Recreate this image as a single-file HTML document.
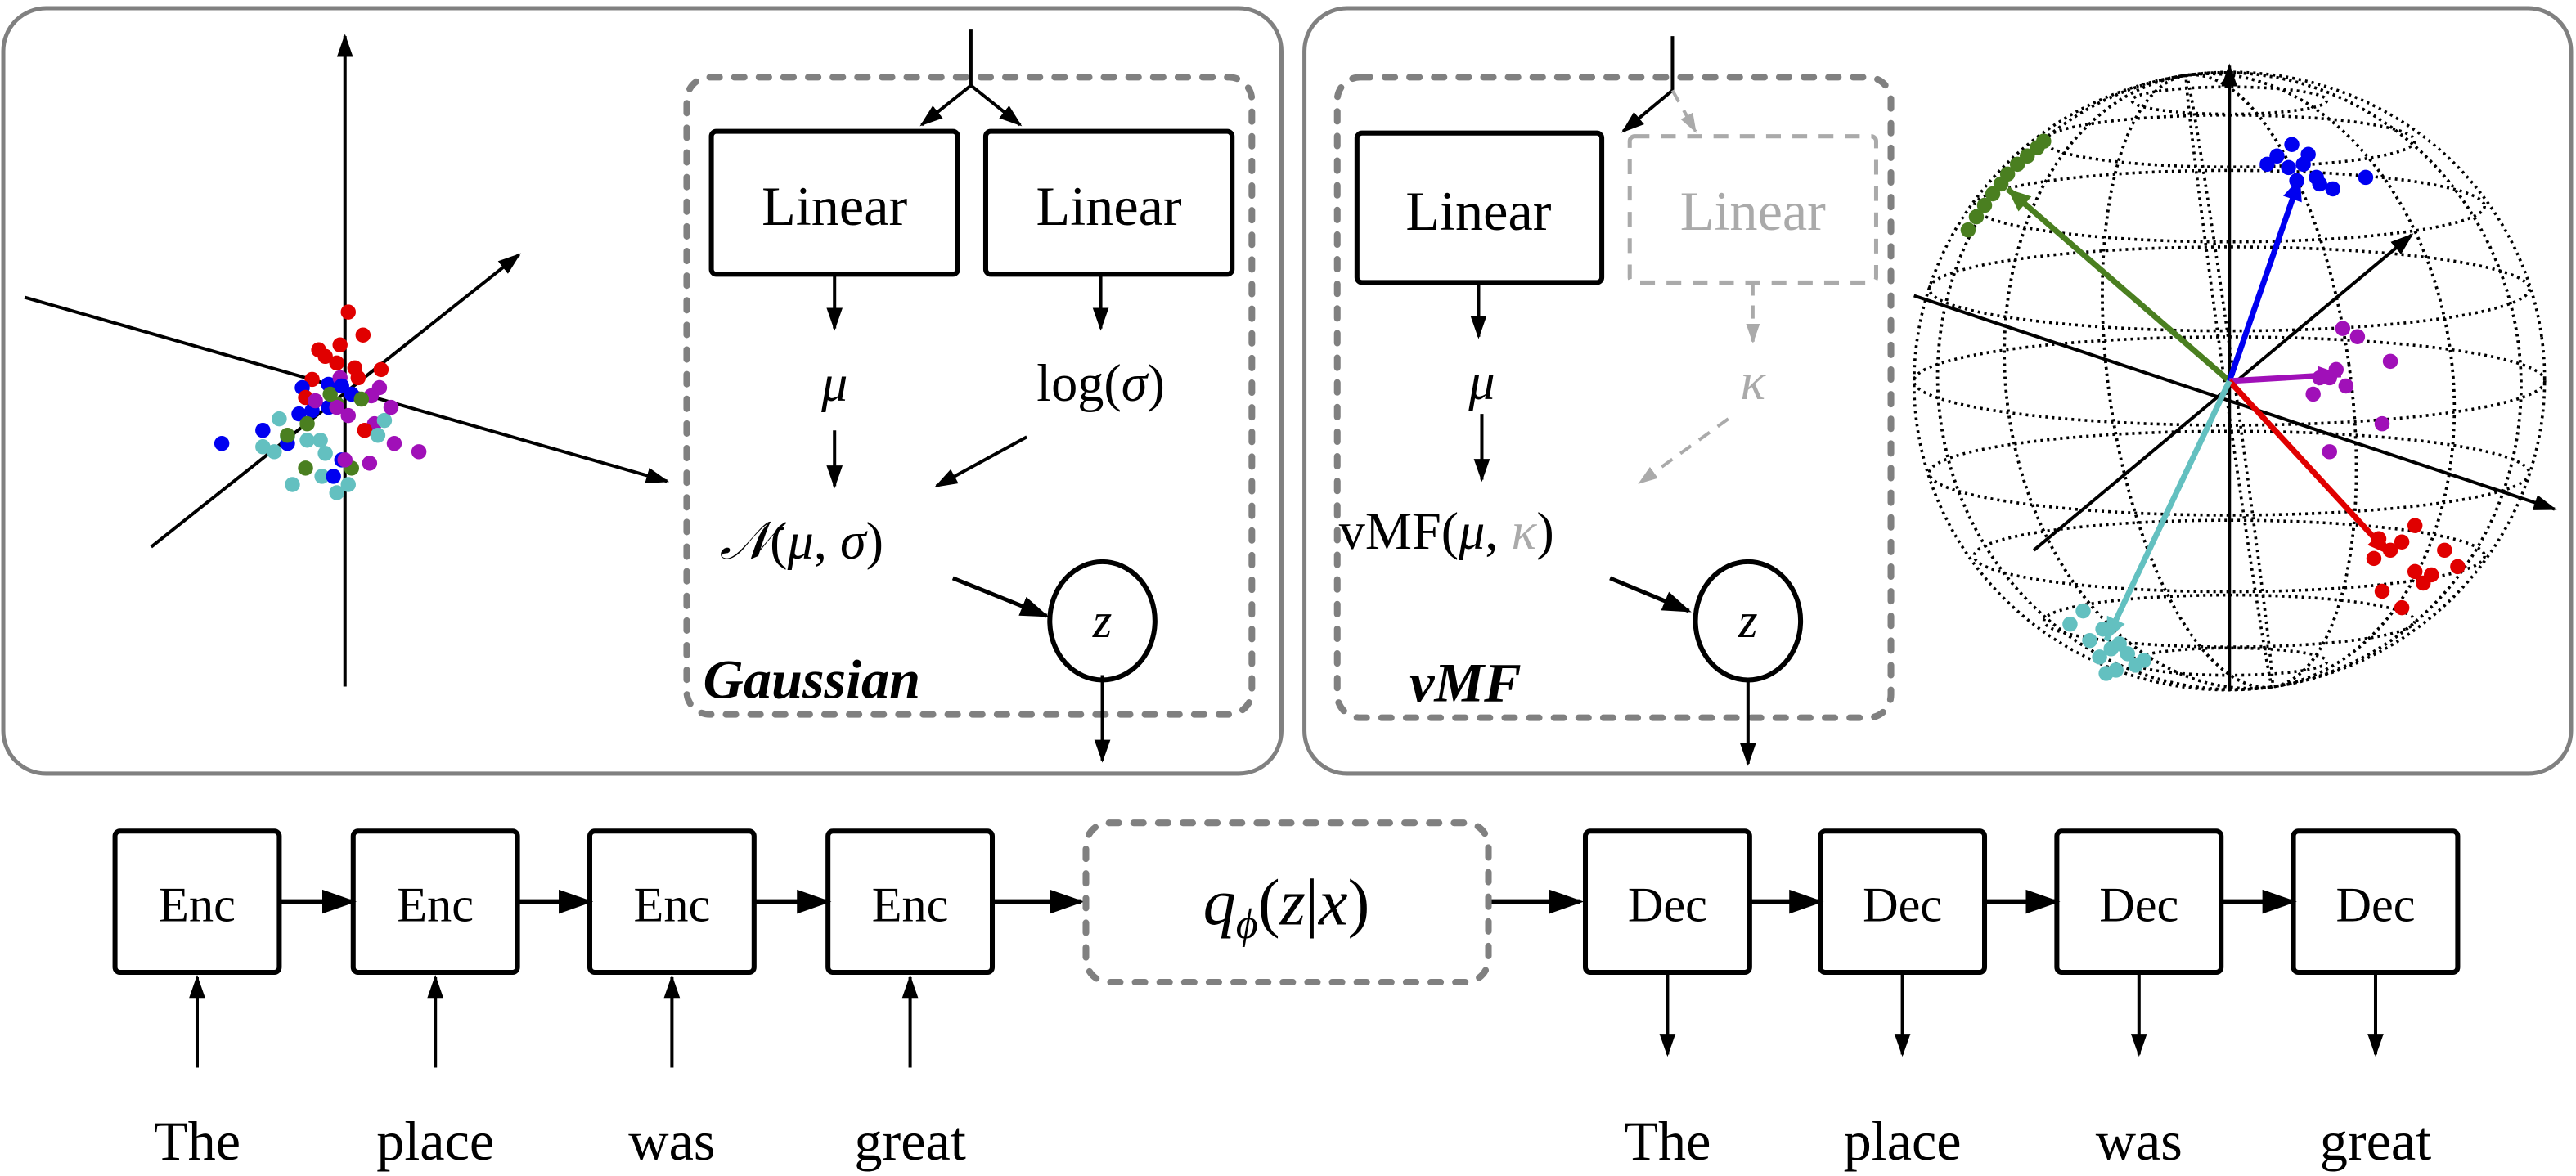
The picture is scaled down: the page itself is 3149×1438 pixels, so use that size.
<!DOCTYPE html>
<html><head><meta charset="utf-8"><style>
html,body{margin:0;padding:0;background:#fff;}
svg{display:block;}
text{font-family:"Liberation Serif",serif;fill:#000;}
</style></head><body>
<svg id="fig" width="3149" height="1438" viewBox="0 0 1568 716" preserveAspectRatio="none" xmlns="http://www.w3.org/2000/svg">
<defs>
<marker id="ah" viewBox="0 0 10 10" refX="9" refY="5" markerWidth="7" markerHeight="7" orient="auto-start-reverse" markerUnits="strokeWidth"><path d="M0,1.5 L10,5 L0,8.5 z" fill="#000"/></marker>
<marker id="ahg" viewBox="0 0 10 10" refX="9" refY="5" markerWidth="6" markerHeight="6" orient="auto" markerUnits="strokeWidth"><path d="M0,1.5 L10,5 L0,8.5 z" fill="#aaa"/></marker>
</defs>

<rect x="2" y="5" width="778" height="466" rx="26" fill="none" stroke="#808080" stroke-width="2.5"/>
<rect x="794" y="5" width="771" height="466" rx="26" fill="none" stroke="#808080" stroke-width="2.5"/>

<rect x="418" y="47" width="344" height="388" rx="14" fill="none" stroke="#808080" stroke-width="4" stroke-dasharray="6,9" stroke-linecap="round"/>
<g stroke="#000" stroke-width="2" fill="none">
<line x1="591" y1="18" x2="591" y2="52"/>
<line x1="591" y1="52" x2="561" y2="76" marker-end="url(#ah)"/>
<line x1="591" y1="52" x2="621" y2="76" marker-end="url(#ah)"/>
<line x1="508" y1="167" x2="508" y2="200" marker-end="url(#ah)"/>
<line x1="670" y1="167" x2="670" y2="200" marker-end="url(#ah)"/>
<line x1="508" y1="262" x2="508" y2="296" marker-end="url(#ah)"/>
<line x1="625" y1="266" x2="570" y2="296" marker-end="url(#ah)"/>
<line x1="580" y1="352" x2="637" y2="375" marker-end="url(#ah)" stroke-width="2.5"/>
<line x1="671" y1="411" x2="671" y2="463" marker-end="url(#ah)"/>
</g>
<rect x="433" y="80" width="150" height="87" rx="3" fill="none" stroke="#000" stroke-width="3"/>
<rect x="600" y="80" width="150" height="87" rx="3" fill="none" stroke="#000" stroke-width="3"/>
<text x="508" y="137" font-size="34" text-anchor="middle">Linear</text>
<text x="675" y="137" font-size="34" text-anchor="middle">Linear</text>
<text x="508" y="244" font-size="32" font-style="italic" text-anchor="middle">μ</text>
<text x="670" y="244" font-size="32" text-anchor="middle">log(<tspan font-style="italic">σ</tspan>)</text>
<text x="438" y="340" font-size="32"><tspan font-style="italic">𝒩</tspan>(<tspan font-style="italic">μ</tspan>, <tspan font-style="italic">σ</tspan>)</text>
<ellipse cx="671" cy="378" rx="32" ry="36" fill="none" stroke="#000" stroke-width="3"/>
<text x="671" y="388" font-size="30" font-style="italic" text-anchor="middle">z</text>
<text x="428" y="425" font-size="34" font-weight="bold" font-style="italic">Gaussian</text>

<g stroke="#000" stroke-width="2">
<line x1="210" y1="418" x2="210" y2="22" marker-end="url(#ah)"/>
<line x1="15" y1="181" x2="406" y2="293" marker-end="url(#ah)"/>
<line x1="92" y1="333" x2="316" y2="155" marker-end="url(#ah)"/>
</g>
<g id="gdots"></g>

<rect x="814" y="47" width="337" height="390" rx="14" fill="none" stroke="#808080" stroke-width="4" stroke-dasharray="6,9" stroke-linecap="round"/>
<g stroke="#000" stroke-width="2" fill="none">
<line x1="1018" y1="22" x2="1018" y2="55"/>
<line x1="1018" y1="55" x2="988" y2="80" marker-end="url(#ah)"/>
<line x1="900" y1="172" x2="900" y2="205" marker-end="url(#ah)"/>
<line x1="902" y1="252" x2="902" y2="292" marker-end="url(#ah)"/>
<line x1="980" y1="352" x2="1028" y2="372" marker-end="url(#ah)" stroke-width="2.5"/>
<line x1="1064" y1="413" x2="1064" y2="465" marker-end="url(#ah)"/>
</g>
<g stroke="#aaa" stroke-width="2" fill="none" stroke-dasharray="8,6">
<line x1="1018" y1="55" x2="1032" y2="80" marker-end="url(#ahg)"/>
<polyline points="1067,172 1067,208" marker-end="url(#ahg)"/>
<line x1="1052" y1="255" x2="998" y2="294" marker-end="url(#ahg)"/>
</g>
<rect x="826" y="81" width="149" height="91" rx="3" fill="none" stroke="#000" stroke-width="3"/>
<rect x="992" y="83" width="150" height="89" rx="3" fill="none" stroke="#aaa" stroke-width="2.5" stroke-dasharray="9,7"/>
<text x="900" y="140" font-size="34" text-anchor="middle">Linear</text>
<text x="1067" y="140" font-size="34" text-anchor="middle" style="fill:#aaa">Linear</text>
<text x="902" y="243" font-size="32" font-style="italic" text-anchor="middle">μ</text>
<text x="1067" y="243" font-size="32" font-style="italic" text-anchor="middle" style="fill:#aaa">κ</text>
<text x="815" y="334" font-size="32">vMF(<tspan font-style="italic">μ</tspan>, <tspan font-style="italic" style="fill:#aaa">κ</tspan>)</text>
<ellipse cx="1064" cy="378" rx="32" ry="36" fill="none" stroke="#000" stroke-width="3"/>
<text x="1064" y="388" font-size="30" font-style="italic" text-anchor="middle">z</text>
<text x="858" y="427" font-size="34" font-weight="bold" font-style="italic">vMF</text>

<g id="sphere" fill="none" stroke="#000" stroke-width="1.8" stroke-dasharray="1.5,2.5"></g>
<g stroke="#000" stroke-width="2">
<line x1="1357" y1="420" x2="1357" y2="40" marker-end="url(#ah)"/>
<line x1="1165" y1="180" x2="1555" y2="310" marker-end="url(#ah)"/>
<line x1="1238" y1="335" x2="1468" y2="143" marker-end="url(#ah)"/>
</g>
<g id="vdots"></g>

<g id="chain"></g>
<rect x="661" y="501" width="245" height="97" rx="14" fill="none" stroke="#808080" stroke-width="4" stroke-dasharray="6,9" stroke-linecap="round"/>
<text x="783" y="563" font-size="40" text-anchor="middle"><tspan font-style="italic">q</tspan><tspan font-style="italic" font-size="26" dy="8">ϕ</tspan><tspan dy="-8">(</tspan><tspan font-style="italic">z</tspan>|<tspan font-style="italic">x</tspan>)</text>
</svg>
<script>
const gX=[212,221,207,194,198,205,216,190,184,200,214,226,231,207,205,220,200,190,182,170,187,160,175,195,205,212,228,234,238,222,175,135,160,175,187,198,208,214,225,240,255,230,186,192,201,208,218,232,196,178,203,212,186,205,167,210];
const gY=[190,204,210,213,217,221,224,231,236,234,240,241,236,230,246,243,248,250,252,255,258,262,266,268,248,253,258,256,248,262,270,270,272,265,268,276,280,285,282,270,275,265,242,244,240,235,230,225,290,295,290,295,285,300,275,280];
const gC=["r","r","r","r","r","r","r","r","b","b","b","p","p","p","g","g","b","b","b","c","g","b","c","c","p","p","p","c","p","r","b","b","c","g","c","c","b","g","p","p","p","c","r","p","g","b","r","r","c","c","b","c","g","c","c","p"];
const vX=[1198,1203,1208,1213,1218,1222,1228,1234,1240,1244,1395,1386,1402,1410,1398,1393,1405,1412,1380,1420,1440,1426,1455,1422,1418,1428,1412,1408,1435,1450,1418,1462,1445,1470,1455,1480,1470,1488,1450,1475,1462,1496,1448,1280,1272,1285,1278,1290,1295,1300,1288,1305,1282,1268,1260];
const vY=[140,132,125,118,112,106,100,95,90,86,88,95,100,108,110,102,94,112,100,115,108,200,220,225,230,235,230,240,205,258,275,330,340,348,335,350,320,335,360,355,370,345,328,383,390,395,400,392,398,405,408,402,410,372,380];
const vC=["g","g","g","g","g","g","g","g","g","g","b","b","b","b","b","b","b","b","b","b","b","p","p","p","p","p","p","p","p","p","p","r","r","r","r","r","r","r","r","r","r","r","r","c","c","c","c","c","c","c","c","c","c","c","c"];
const colors={r:"#e00000",b:"#0000f0",g:"#4a7f20",p:"#a010b8",c:"#63c0c0"};
const NS="http://www.w3.org/2000/svg";
function dots(gid,xs,ys,cs,r){const g=document.getElementById(gid);
 for(let i=0;i<xs.length;i++){const c=document.createElementNS(NS,"circle");
  
  
  c.setAttribute("cx",xs[i]);c.setAttribute("cy",ys[i]);c.setAttribute("r",r);c.setAttribute("fill",colors[cs[i]]);g.appendChild(c);}}
dots("gdots",gX,gY,gC,4.6);
const vecEnd=[[1222,115,"g"],[1400,108,"b"],[1425,228,"p"],[1455,338,"r"],[1282,390,"c"]];
const sg=document.getElementById("vdots");
vecEnd.forEach(v=>{const l=document.createElementNS(NS,"line");
 
 
 l.setAttribute("x1",1357);l.setAttribute("y1",232);l.setAttribute("x2",v[0]);l.setAttribute("y2",v[1]);
 l.setAttribute("stroke",colors[v[2]]);l.setAttribute("stroke-width",3.5);sg.appendChild(l);
 const ang=Math.atan2(v[1]-232,v[0]-1357),s=14;
 const p=document.createElementNS(NS,"path");
 
 
 const bx=v[0]-s*Math.cos(ang),by=v[1]-s*Math.sin(ang),nx=-Math.sin(ang)*6,ny=Math.cos(ang)*6;
 p.setAttribute("d",`M${v[0]},${v[1]} L${bx+nx},${by+ny} L${bx-nx},${by-ny}z`);p.setAttribute("fill",colors[v[2]]);sg.appendChild(p);});
dots("vdots",vX,vY,vC,4.6);
const sp=document.getElementById("sphere");
const cx=1357,cy=232,R=192,RY=188;
for(let k=-4;k<=4;k++){const t=k/5,y=cy-RY*Math.sin(t*Math.PI/2),rx=R*Math.cos(t*Math.PI/2);
 const e=document.createElementNS(NS,"ellipse");e.setAttribute("cx",cx);e.setAttribute("cy",y+(k===0?0:k*2));e.setAttribute("rx",rx);e.setAttribute("ry",rx*0.14);sp.appendChild(e);}
for(let k=0;k<8;k++){const a=k*Math.PI/8,rx=Math.abs(R*Math.cos(a));
 const e=document.createElementNS(NS,"ellipse");e.setAttribute("cx",cx);e.setAttribute("cy",cy);e.setAttribute("rx",Math.max(rx,3));e.setAttribute("ry",RY);e.setAttribute("transform",`rotate(-8 ${cx} ${cy})`);sp.appendChild(e);}
const chain=document.getElementById("chain");
const encX=[120,265,409,554],decX=[1015,1158,1302,1446];
const words=["The","place","was","great"];
function el(tag,attrs,name,txt){const e=document.createElementNS(NS,tag);
 
 
 for(const k in attrs)e.setAttribute(k,attrs[k]);if(txt)e.textContent=txt;chain.appendChild(e);return e;}
function box(x,label,name){el("rect",{x:x-50,y:506,width:100,height:86,rx:3,fill:"none",stroke:"#000","stroke-width":3},name);
 el("text",{x:x,y:561,"font-size":30,"text-anchor":"middle"},name+"-label",label);}
encX.forEach((x,i)=>{box(x,"Enc","encoder-cell");
 el("line",{x1:x,y1:650,x2:x,y2:595,stroke:"#000","stroke-width":2,"marker-end":"url(#ah)"},"input-arrow");
 el("text",{x:x,y:706,"font-size":34,"text-anchor":"middle"},"input-word",words[i]);
 const nx=i<3?encX[i+1]-50:658;
 el("line",{x1:x+50,y1:549,x2:nx,y2:549,stroke:"#000","stroke-width":3,"marker-end":"url(#ah)"},"encoder-arrow");});
el("line",{x1:907,y1:549,x2:962,y2:549,stroke:"#000","stroke-width":3,"marker-end":"url(#ah)"},"latent-to-decoder-arrow");
decX.forEach((x,i)=>{box(x,"Dec","decoder-cell");
 el("line",{x1:x,y1:592,x2:x,y2:642,stroke:"#000","stroke-width":2,"marker-end":"url(#ah)"},"output-arrow");
 el("text",{x:x,y:706,"font-size":34,"text-anchor":"middle"},"output-word",words[i]);
 if(i<3)el("line",{x1:x+50,y1:549,x2:decX[i+1]-50,y2:549,stroke:"#000","stroke-width":3,"marker-end":"url(#ah)"},"decoder-arrow");});
</script>
</body></html>
